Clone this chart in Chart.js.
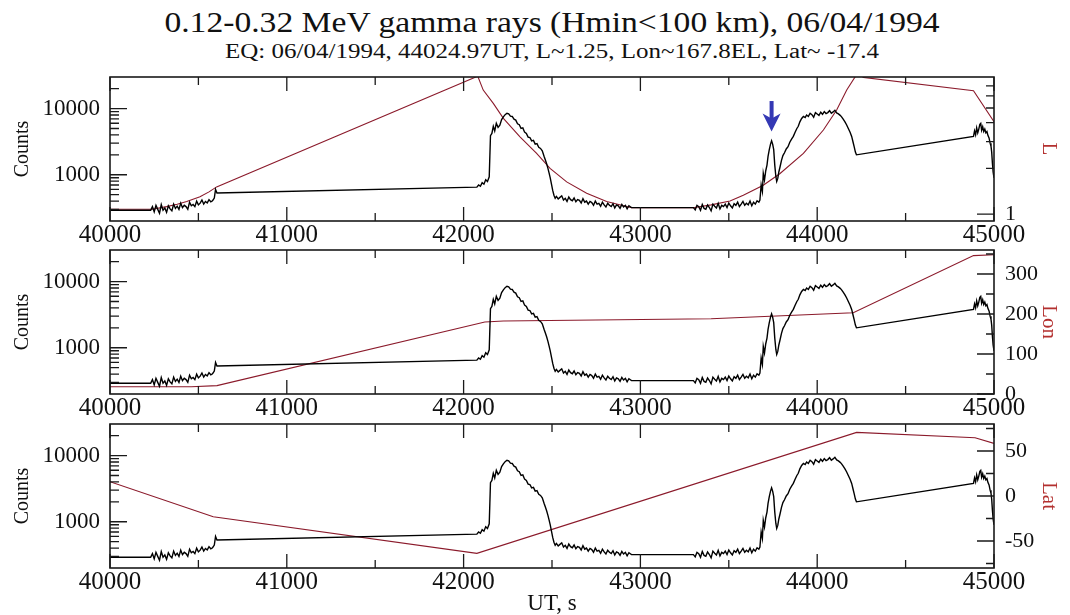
<!DOCTYPE html>
<html>
<head>
<meta charset="utf-8">
<title>0.12-0.32 MeV gamma rays, 06/04/1994</title>
<script src="https://cdn.jsdelivr.net/npm/chart.js@4.4.1/dist/chart.umd.min.js"></script>
<style>
  html, body { margin: 0; padding: 0; background: #fff; overflow: hidden; }
  body { width: 1070px; height: 615px; position: relative; font-family: "Liberation Serif", "Times New Roman", serif; }
  .head { position: absolute; left: 110px; width: 884px; text-align: center; color: #111; white-space: nowrap; line-height: 1; }
  #title { top: 7px; font-size: 30px; transform: scaleX(1.12); }
  #subtitle { top: 41px; font-size: 20px; transform: scaleX(1.25); }
  canvas { position: absolute; left: 0; }
</style>
</head>
<body>
<div id="title" class="head">0.12-0.32 MeV gamma rays (Hmin&lt;100 km), 06/04/1994</div>
<div id="subtitle" class="head">EQ: 06/04/1994, 44024.97UT, L~1.25, Lon~167.8EL, Lat~ -17.4</div>
<canvas id="panelL" width="1070" height="182" style="top:69px"></canvas>
<canvas id="panelLon" width="1070" height="182" style="top:242px"></canvas>
<canvas id="panelLat" width="1070" height="212" style="top:416px"></canvas>
<script>
// ---- time axis (UT, s) ----
const utMin = 40000;
const utMax = 45000;
const utTicks = [40000, 40500, 41000, 41500, 42000, 42500, 43000, 43500, 44000, 44500, 45000];
const utLabelled = [40000, 41000, 42000, 43000, 44000, 45000];

// ---- counts axis (log) ----
const countsMin = 200;
const countsMax = 30000;
const countTicks = [300, 400, 500, 600, 700, 800, 900, 1000, 2000, 3000, 4000, 5000, 6000, 7000, 8000, 9000, 10000, 20000];
const countLabelled = [1000, 10000];

// ---- 0.12-0.32 MeV counts ----
const countsUT = [
  40000, 40230,
  40240, 40250, 40260, 40270, 40280, 40290, 40300, 40310, 40320, 40330,
  40340, 40350, 40360, 40370, 40380, 40390, 40400, 40410, 40420, 40430,
  40440, 40450, 40460, 40470, 40480, 40490, 40500, 40510, 40520, 40530,
  40540, 40550, 40560, 40570, 40580, 40590, 40597, 40605,
  42075, 42085, 42095, 42105, 42115, 42125, 42135, 42145, 42152, 42160,
  42168, 42176, 42185, 42195, 42205, 42215, 42225, 42235, 42245, 42255,
  42265, 42275, 42285, 42295, 42305, 42315, 42325, 42335, 42345, 42355,
  42365, 42375, 42385, 42395, 42405, 42415, 42425, 42435, 42445, 42455,
  42463, 42470, 42477, 42484, 42490, 42497, 42504, 42511, 42518,
  42525, 42535, 42545, 42555, 42565, 42575, 42585, 42595, 42605, 42615,
  42625, 42635, 42645, 42655, 42665, 42675, 42685, 42695, 42705, 42715,
  42725, 42735, 42745, 42755, 42765, 42775, 42785, 42795, 42805, 42815,
  42825, 42835, 42845, 42855, 42865, 42875, 42885, 42895, 42905, 42915,
  42925, 42935, 42945, 42950,
  43300, 43310, 43320, 43330, 43340, 43350, 43360, 43370, 43380, 43390,
  43400, 43410, 43420, 43430, 43440, 43450, 43460, 43470, 43480, 43490,
  43500, 43510, 43520, 43530, 43540, 43550, 43560, 43570, 43580, 43590,
  43600, 43610, 43620, 43630, 43640, 43650, 43660, 43670,
  43676, 43683, 43690, 43695, 43702, 43709, 43716, 43722, 43729, 43736,
  43742, 43748, 43754, 43760, 43766, 43771, 43777, 43783, 43790, 43798,
  43806, 43815, 43825, 43835, 43845, 43855, 43865, 43875, 43885, 43893,
  43902, 43912, 43922, 43932, 43940, 43950, 43960, 43970, 43980, 43990,
  44000, 44010, 44020, 44030, 44040, 44050, 44060, 44070, 44080, 44090,
  44100, 44110, 44120, 44130, 44138, 44147, 44157, 44166, 44176, 44186,
  44195, 44203, 44210, 44216, 44222,
  44884, 44890, 44896, 44902, 44908, 44914, 44920, 44925, 44930, 44936,
  44942, 44948, 44954, 44960, 44966, 44972, 44978, 44983, 44987, 44991,
  44995, 45000,
];
const counts = [
  290, 290,
  330, 275, 345, 300, 262, 355, 290, 315, 270, 340,
  305, 285, 360, 310, 335, 300, 372, 318, 345, 330,
  300, 385, 340, 355, 330, 398, 350, 372, 415, 360,
  395, 375, 420, 390, 405, 445, 600, 530,
  650, 700, 670, 760, 720, 840, 790, 930, 3900, 4200,
  5400, 4600, 6000, 5200, 5600, 6800, 7500, 8100, 8500, 8300,
  7700, 7600, 6900, 6700, 5900, 5700, 5000, 5100, 4400, 4200,
  3700, 3650, 3250, 3300, 2900, 2950, 2600, 2500, 2300, 1900,
  1650, 1450, 1250, 1050, 900, 720, 580, 490, 440,
  470, 430, 455, 480, 415, 440, 395, 460, 420, 405,
  445, 390, 420, 410, 375, 435, 385, 400, 360, 395,
  380, 345, 400, 360, 370, 335, 385, 350, 325, 370,
  345, 330, 365, 315, 350, 340, 310, 355, 325, 345,
  305, 340, 325, 318,
  318, 295, 345, 330, 290, 355, 310, 300, 350, 320,
  285, 360, 335, 315, 370, 305, 345, 330, 360, 320,
  375, 340, 315, 365, 345, 385, 330, 360, 395, 345,
  370, 350, 400, 340, 385, 360, 405, 385,
  415, 700, 560, 1050, 830, 1150, 1400, 1900, 2400, 2900,
  3250, 2900, 2400, 1400, 950, 790, 880, 1100, 1320, 1650,
  1950, 2150, 2450, 2650, 3100, 3450, 3800, 4400, 5000, 5400,
  6300, 7100, 7600, 7300, 8000, 7600, 8500, 8100, 7400, 8700,
  8300, 7900, 8800, 8200, 9000, 8400, 8700, 9300, 8500, 8900,
  9400, 8600, 8300, 7900, 7500, 6900, 6300, 5700, 5000, 4400,
  3800, 3100, 2600, 2200, 2000,
  3800, 4600, 4000, 5100, 4300, 4900, 5800, 6000, 4700, 5300,
  4500, 4900, 4300, 4500, 3900, 3600, 3000, 2700, 2200, 1500,
  1100, 900,
];

// ---- L-shell ----
const lUT = [
  40000, 40240, 40320, 40380, 40434, 40509, 40560, 40603, 42080, 42111,
  42168, 42225, 42319, 42413, 42489, 42583, 42696, 42809, 42922, 42950,
  43300, 43400, 43507, 43582, 43695, 43790, 43922, 44035, 44110, 44167,
  44214, 44235, 44262, 44884, 45000,
];
const lValues = [
  1.075, 1.075, 1.12, 1.16, 1.21, 1.30, 1.40, 1.51, 8.1, 6.56,
  5.36, 4.27, 3.23, 2.51, 2.0, 1.63, 1.37, 1.21, 1.12, 1.10,
  1.10, 1.15, 1.22, 1.33, 1.55, 1.85, 2.51, 3.58, 4.85, 6.56,
  8.0, 8.3, 7.95, 6.5, 4.06,
];
const lTicks = [1, 2, 3, 4, 5, 6, 7];
const lLabelled = [1];

// ---- longitude ----
const lonUT = [40000, 40460, 40605, 42120, 42225, 43400, 44204, 44884, 45000];
const lonValues = [18, 18, 21, 180, 182.5, 188, 203, 346, 348];
const lonTicks = [0, 50, 100, 150, 200, 250, 300, 350];
const lonLabelled = [0, 100, 200, 300];

// ---- latitude ----
const latUT = [40000, 40584, 42075, 44223, 44893, 45000];
const latValues = [15.9, -23, -63.7, 70.7, 64.8, 58.5];
const latTicks = [-75, -50, -25, 0, 25, 50, 75];
const latLabelled = [-50, 0, 50];

// marker over the short burst before the equator crossing
const arrowUT = 43742;
const arrowFrom = 13000;
const arrowTo = 4500;

const serif = "'Liberation Serif', 'Times New Roman', serif";
const inkColor = '#111';
const orbitColor = '#8b1a2b';
const orbitLabelColor = '#b3302f';

function toPoints(xs, ys) {
  return xs.map((x, i) => ({ x: x, y: ys[i] }));
}

function fixedTicks(values, labelled) {
  return (scale) => {
    scale.ticks = values.map((v) => ({ value: v, major: labelled.includes(v) }));
  };
}

// keep the plot box where it is: no extra room for half-labels
function fixWidth(w) {
  return (s) => {
    s.width = w;
    s.paddingTop = 0;
    s.paddingBottom = 0;
  };
}
function fixHeight(h) {
  return (s) => {
    s.height = h;
    s.paddingLeft = 0;
    s.paddingRight = 0;
  };
}

// frame + inward tick marks on all four sides
const innerTicks = {
  id: 'innerTicks',
  afterDatasetsDraw(chart) {
    const { ctx, chartArea: area, scales } = chart;
    ctx.save();
    ctx.strokeStyle = '#1a1a1a';
    ctx.lineWidth = 1.3;
    ctx.beginPath();
    scales.x.ticks.forEach((t) => {
      const px = scales.x.getPixelForValue(t.value);
      const len = t.major ? 14 : 8;
      ctx.moveTo(px, area.bottom);
      ctx.lineTo(px, area.bottom - len);
      ctx.moveTo(px, area.top);
      ctx.lineTo(px, area.top + len);
    });
    scales.y.ticks.forEach((t) => {
      const py = scales.y.getPixelForValue(t.value);
      const len = t.major ? 17 : 9;
      ctx.moveTo(area.left, py);
      ctx.lineTo(area.left + len, py);
    });
    scales.y2.ticks.forEach((t) => {
      const py = scales.y2.getPixelForValue(t.value);
      const len = t.major ? 17 : 8;
      ctx.moveTo(area.right, py);
      ctx.lineTo(area.right - len, py);
    });
    ctx.stroke();
    ctx.lineWidth = 1.6;
    ctx.strokeRect(area.left, area.top, area.right - area.left, area.bottom - area.top);
    ctx.restore();
  },
};

// blue down arrow (top panel only)
const burstArrow = {
  id: 'burstArrow',
  afterDatasetsDraw(chart) {
    const { ctx, scales } = chart;
    const px = scales.x.getPixelForValue(arrowUT);
    const top = scales.y.getPixelForValue(arrowFrom);
    const tip = scales.y.getPixelForValue(arrowTo);
    ctx.save();
    ctx.strokeStyle = '#3438b4';
    ctx.fillStyle = '#3438b4';
    ctx.lineWidth = 4;
    ctx.beginPath();
    ctx.moveTo(px, top);
    ctx.lineTo(px, tip - 10);
    ctx.stroke();
    ctx.beginPath();
    ctx.moveTo(px - 9, tip - 18);
    ctx.lineTo(px, tip - 13);
    ctx.lineTo(px + 9, tip - 18);
    ctx.lineTo(px, tip);
    ctx.closePath();
    ctx.fill();
    ctx.restore();
  },
};

const panels = [
  {
    id: 'panelL', ut: lUT, values: lValues, title: 'L',
    axis: { type: 'logarithmic', min: 0.9, max: 8 },
    ticks: lTicks, labelled: lLabelled, xHeight: 30, xTitle: false, arrow: true,
  },
  {
    id: 'panelLon', ut: lonUT, values: lonValues, title: 'Lon',
    axis: { type: 'linear', min: 0, max: 360 },
    ticks: lonTicks, labelled: lonLabelled, xHeight: 30, xTitle: false, arrow: false,
  },
  {
    id: 'panelLat', ut: latUT, values: latValues, title: 'Lat',
    axis: { type: 'linear', min: -80, max: 80 },
    ticks: latTicks, labelled: latLabelled, xHeight: 60, xTitle: true, arrow: false,
  },
];

panels.forEach((p) => {
  new Chart(document.getElementById(p.id), {
    type: 'line',
    data: {
      datasets: [
        {
          label: 'Counts',
          data: toPoints(countsUT, counts),
          yAxisID: 'y',
          borderColor: '#000',
          borderWidth: 1.4,
        },
        {
          label: p.title,
          data: toPoints(p.ut, p.values),
          yAxisID: 'y2',
          borderColor: orbitColor,
          borderWidth: 1.1,
        },
      ],
    },
    options: {
      responsive: false,
      animation: false,
      events: [],
      layout: { padding: { top: 8, left: 0, right: 0, bottom: 0 } },
      elements: { point: { radius: 0 }, line: { tension: 0, fill: false } },
      plugins: { legend: { display: false }, tooltip: { enabled: false } },
      scales: {
        x: {
          type: 'linear',
          min: utMin,
          max: utMax,
          afterBuildTicks: fixedTicks(utTicks, utLabelled),
          afterFit: fixHeight(p.xHeight),
          grid: { display: false, drawTicks: false },
          border: { display: false },
          ticks: {
            autoSkip: false,
            maxRotation: 0,
            padding: 2,
            color: inkColor,
            font: { family: serif, size: 25, lineHeight: 1 },
            callback: (v) => (utLabelled.includes(v) ? String(v) : ''),
          },
          title: {
            display: p.xTitle,
            text: 'UT, s',
            color: inkColor,
            font: { family: serif, size: 23 },
            padding: { top: 0, bottom: 10 },
          },
        },
        y: {
          type: 'logarithmic',
          position: 'left',
          min: countsMin,
          max: countsMax,
          afterBuildTicks: fixedTicks(countTicks, countLabelled),
          afterFit: fixWidth(110),
          grid: { display: false, drawTicks: false },
          border: { display: false },
          ticks: {
            autoSkip: false,
            padding: 10,
            color: inkColor,
            font: { family: serif, size: 23 },
            callback: (v) => (countLabelled.includes(v) ? String(v) : ''),
          },
          title: {
            display: true,
            text: 'Counts',
            color: inkColor,
            font: { family: serif, size: 20 },
            padding: { top: 11, bottom: 0 },
          },
        },
        y2: {
          type: p.axis.type,
          position: 'right',
          min: p.axis.min,
          max: p.axis.max,
          afterBuildTicks: fixedTicks(p.ticks, p.labelled),
          afterFit: fixWidth(76),
          grid: { display: false, drawTicks: false },
          border: { display: false },
          ticks: {
            autoSkip: false,
            padding: 11,
            color: inkColor,
            font: { family: serif, size: 22 },
            callback: (v) => (p.labelled.includes(v) ? String(v) : ''),
          },
          title: {
            display: true,
            text: p.title,
            color: orbitLabelColor,
            font: { family: serif, size: 21 },
            padding: { top: 9, bottom: 0 },
          },
        },
      },
    },
    plugins: p.arrow ? [innerTicks, burstArrow] : [innerTicks],
  });
});
</script>
</body>
</html>
